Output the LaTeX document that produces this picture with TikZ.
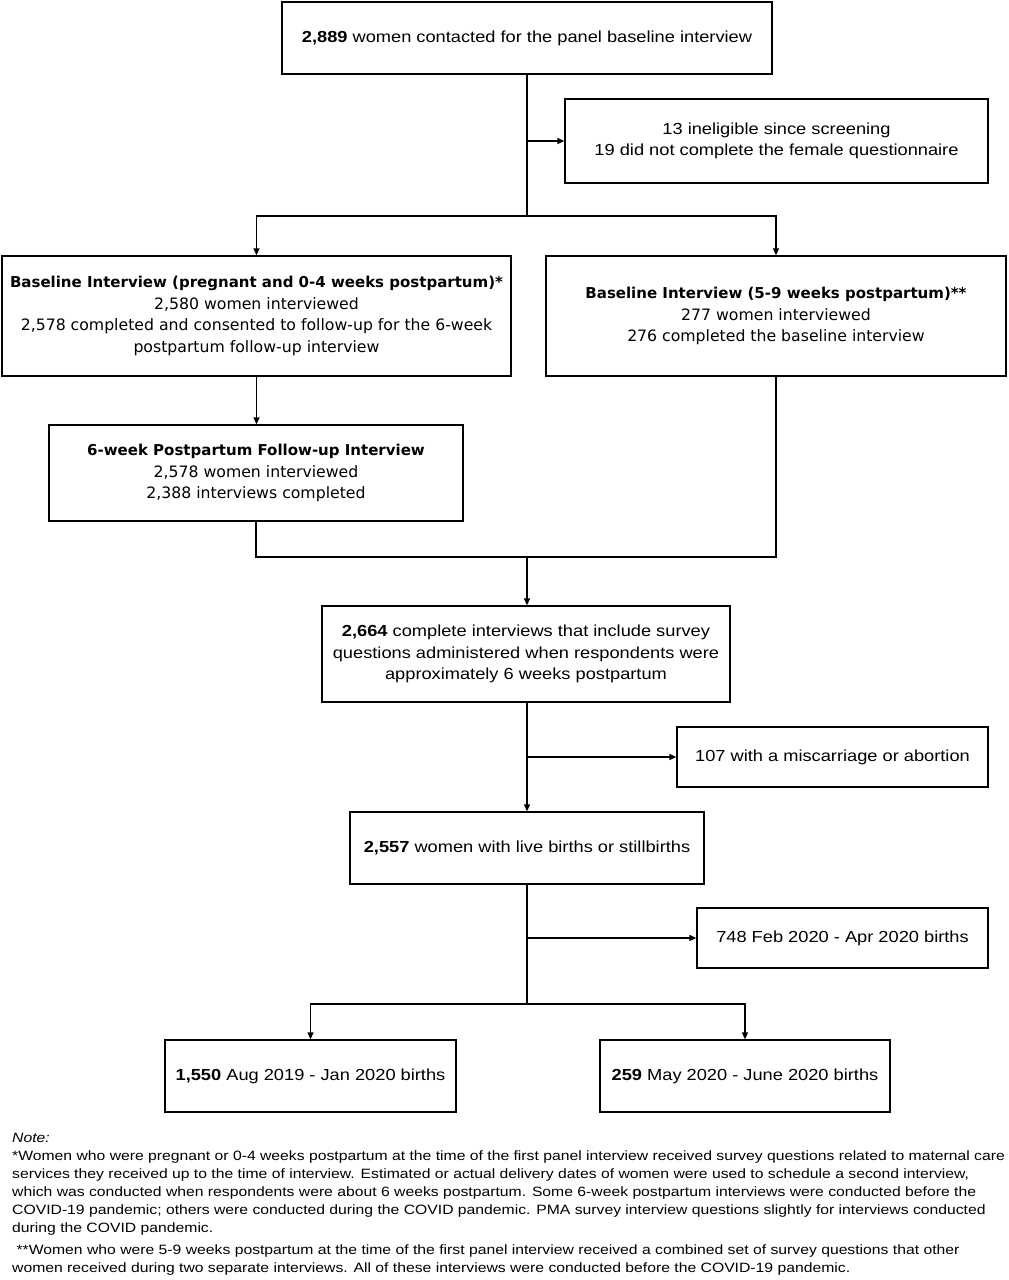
\documentclass[tikz,border=0pt]{standalone}
\usepackage{fontspec}
\usetikzlibrary{arrows.meta}
\newfontfamily\narrowf[FakeStretch=1.14]{Liberation Sans}
\newfontfamily\notef[FakeStretch=1.165]{Liberation Sans}
\newfontfamily\verdf{DejaVu Sans}
\newcommand{\bt}[1]{{\fontsize{15}{21.5}\selectfont\bfseries #1}}
\begin{document}
\begin{tikzpicture}[x=1pt,y=-1pt,
  box/.style={draw, line width=1.3pt, align=center, inner sep=0pt},
  nf/.style={font=\narrowf\fontsize{16}{21.5}\selectfont},
  vf/.style={font=\verdf\fontsize{15.7}{21.5}\selectfont},
  arr/.style={line width=1.3pt, -{Triangle[length=7pt,width=6pt]}},
  ln/.style={line width=1.3pt},
  note/.style={anchor=base west, inner sep=0pt, font=\notef\fontsize{13.5}{18}\selectfont}]
\useasboundingbox (0,0) rectangle (1009,1280);
\node[box,nf,minimum width=490pt,minimum height=72pt] (top) at (527,38) {\textbf{2,889} women contacted for the panel baseline interview};
\node[box,nf,minimum width=423pt,minimum height=84pt] (excl) at (776.5,141) {13 ineligible since screening\\19 did not complete the female questionnaire};
\node[box,vf,minimum width=509pt,minimum height=120pt] (bl) at (256.5,316) {\bt{Baseline Interview (pregnant and 0-4 weeks postpartum)*}\\2,580 women interviewed\\2,578 completed and consented to follow-up for the 6-week\\postpartum follow-up interview};
\node[box,vf,minimum width=460pt,minimum height=120pt] (br) at (776,316) {\bt{Baseline Interview (5-9 weeks postpartum)**}\\277 women interviewed\\276 completed the baseline interview};
\node[box,vf,minimum width=414pt,minimum height=96pt] (sw) at (256,473) {\bt{6-week Postpartum Follow-up Interview}\\2,578 women interviewed\\2,388 interviews completed};
\node[box,nf,minimum width=408pt,minimum height=96pt] (c2664) at (526,654) {\textbf{2,664} complete interviews that include survey\\questions administered when respondents were\\approximately 6 weeks postpartum};
\node[box,nf,minimum width=311pt,minimum height=60pt] (n107) at (832.5,757) {107 with a miscarriage or abortion};
\node[box,nf,minimum width=354pt,minimum height=72pt] (c2557) at (527,848) {\textbf{2,557} women with live births or stillbirths};
\node[box,nf,minimum width=291pt,minimum height=60pt] (n748) at (842.5,938) {748 Feb 2020 - Apr 2020 births};
\node[box,nf,minimum width=291pt,minimum height=72pt] (n1550) at (310.5,1076) {\textbf{1,550} Aug 2019 - Jan 2020 births};
\node[box,nf,minimum width=290pt,minimum height=72pt] (n259) at (745,1076) {\textbf{259} May 2020 - June 2020 births};
\coordinate (j1) at (527,216);
\coordinate (j2) at (527,557);
\coordinate (j3) at (527,1004);
\draw[ln] (top.south) -- (j1);
\draw[arr] (j1) -| (bl.north);
\draw[arr] (j1) -| (br.north);
\draw[arr] (top.south |- excl.west) -- (excl.west);
\draw[arr] (bl.south) -- (bl.south |- sw.north);
\draw[ln] (sw.south) |- (br.south |- j2) -- (br.south);
\draw[arr] (j2) -- (j2 |- c2664.north);
\draw[arr] (c2664.south -| j2) -- (j2 |- c2557.north);
\draw[arr] (j2 |- n107.west) -- (n107.west);
\draw[ln] (c2557.south -| j3) -- (j3);
\draw[arr] (j3) -| (n1550.north);
\draw[arr] (j3) -| (n259.north);
\draw[arr] (j3 |- n748.west) -- (n748.west);
\node[note] (t0) at (12,1142) {\itshape Note:};
\node[note] (t1) at (12,1160) {*Women who were pregnant or 0-4 weeks postpartum at the time of the first panel interview received survey questions related to maternal care};
\node[note] (t2) at (12,1178) {services they received up to the time of interview. Estimated or actual delivery dates of women were used to schedule a second interview,};
\node[note] (t3) at (12,1196) {which was conducted when respondents were about 6 weeks postpartum. Some 6-week postpartum interviews were conducted before the};
\node[note] (t4) at (12,1214) {COVID-19 pandemic; others were conducted during the COVID pandemic. PMA survey interview questions slightly for interviews conducted};
\node[note] (t5) at (12,1232) {during the COVID pandemic.};
\node[note] (t6) at (12,1254) {\ **Women who were 5-9 weeks postpartum at the time of the first panel interview received a combined set of survey questions that other};
\node[note] (t7) at (12,1272) {women received during two separate interviews. All of these interviews were conducted before the COVID-19 pandemic.};
\end{tikzpicture}
\end{document}
